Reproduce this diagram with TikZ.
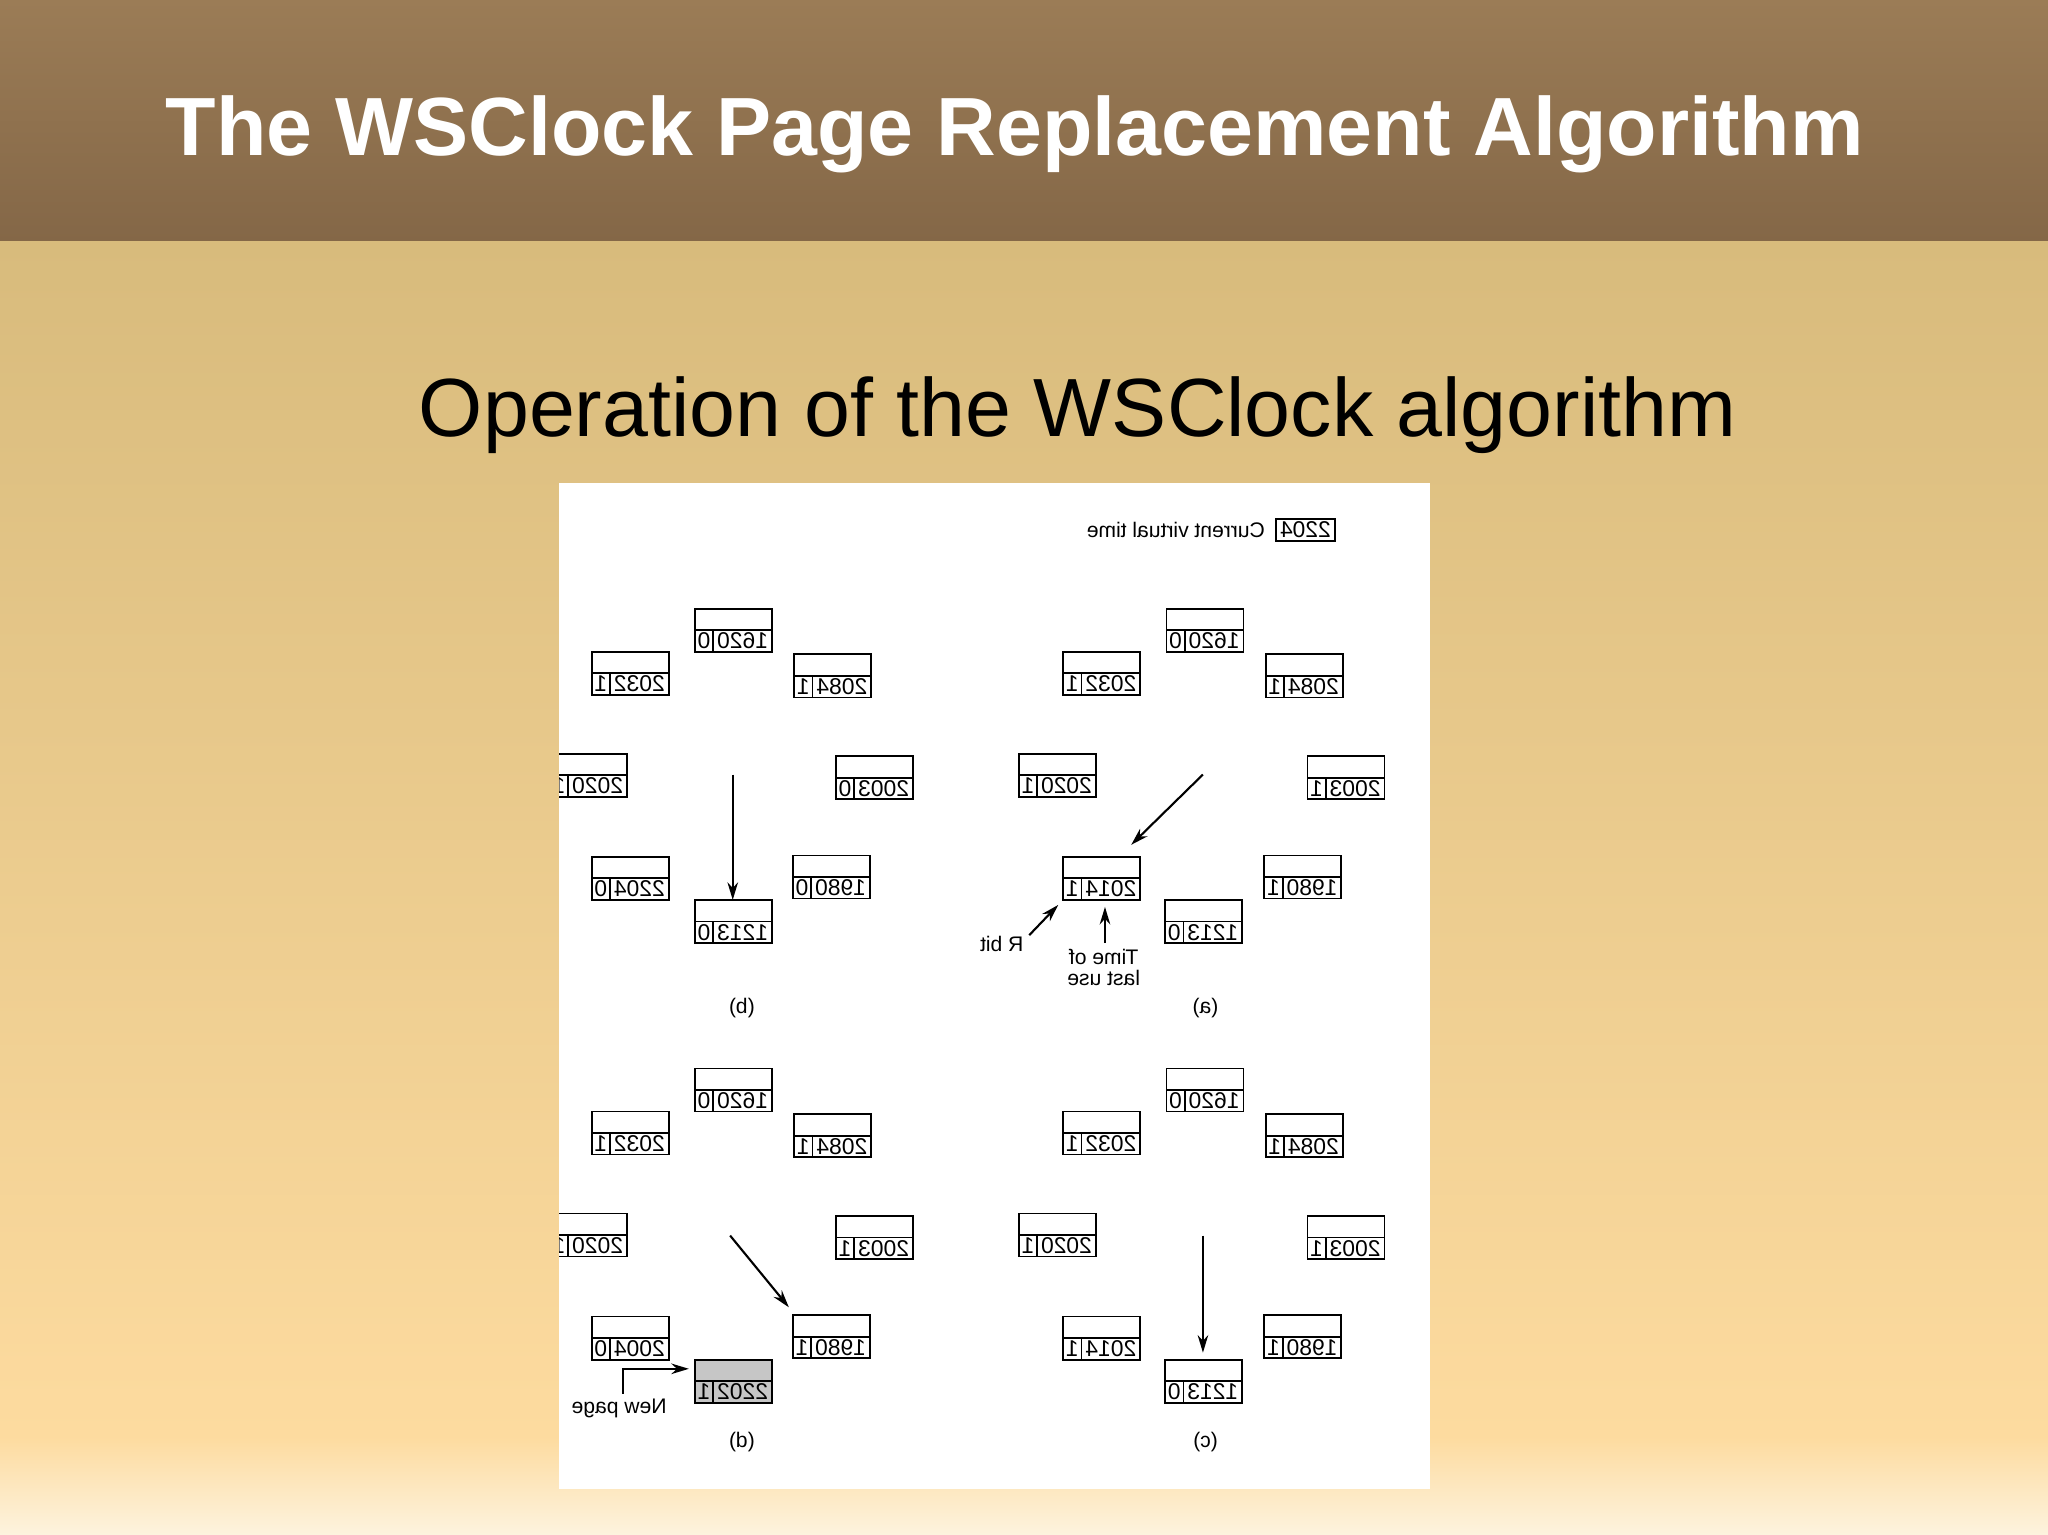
\documentclass[tikz,border=0pt]{standalone}
\usepackage{fontspec}
\setmainfont{Liberation Sans}
\usetikzlibrary{arrows.meta,calc}
\definecolor{hdtop}{RGB}{155,124,86}
\definecolor{hdbot}{RGB}{132,103,71}
\definecolor{bgtop}{RGB}{216,187,124}
\definecolor{bgmid}{RGB}{253,219,159}
\definecolor{bgbot}{RGB}{253,243,222}
\tikzset{
  pgbox/.style={draw,line width=0.5pt,minimum width=0.77cm,minimum height=0.431cm,inner sep=0pt,outer sep=0pt},
  dig/.style={font=\fontsize{6.5}{7}\selectfont,inner sep=0pt},
  lab/.style={font=\fontsize{6}{7}\selectfont,inner sep=0pt},
  arr/.style={line width=0.6pt,-{Stealth[length=5pt,width=3pt]}},
}
\newcommand{\pg}[6][white]{%
  \node[pgbox,fill=#1] (#2) at (#3+29.5,#4+16.5) {};
  \draw[line width=0.5pt] (#2.west) -- (#2.east);
  \draw[line width=0.5pt] ([xshift=0.183cm]#2.south west) -- ([xshift=0.183cm]#2.west);
  \node[dig] at ([xshift=0.477cm,yshift=0.108cm]#2.south west) {\reflectbox{#5}};
  \node[dig] at ([xshift=0.091cm,yshift=0.108cm]#2.south west) {\reflectbox{#6}};
}
\begin{document}
\begin{tikzpicture}[x=0.01306cm,y=-0.01306cm]
\useasboundingbox (0,0) rectangle (1568,1175);
\shade[top color=hdtop,bottom color=hdbot] (0,0) rectangle (1568,185);
\shade[top color=bgtop,bottom color=bgmid] (0,185) rectangle (1568,1100);
\shade[top color=bgmid,bottom color=bgbot] (0,1100) rectangle (1568,1175);
\node[text=white,font=\fontsize{23.5}{26}\selectfont\bfseries] (title) at (777,103) {The WSClock Page Replacement Algorithm};
\node[font=\fontsize{23.5}{26}\selectfont] (sub) at (825,318) {Operation of the WSClock algorithm};
\fill[white] (428,370) rectangle (1095,1140);
\begin{scope}
\clip (428,370) rectangle (1095,1140);
\node[draw,line width=0.5pt,minimum width=0.59cm,minimum height=0.22cm,inner sep=0pt] (cvt) at (999.5,405.5) {};
\node[dig] at (cvt) {\reflectbox{2204}};
\node[lab,anchor=east] (cvtl) at (969,405.5) {\reflectbox{Current virtual time}};
\pg{d1}{532}{466}{1620}{0}
\pg{d2}{453}{499}{2032}{1}
\pg{d3}{608}{501}{2084}{1}
\pg{d4}{421}{577}{2020}{1}
\pg{d5}{640}{579}{2003}{0}
\pg{d6}{453}{656}{2204}{0}
\pg{d7}{607}{655}{1980}{0}
\pg{d8}{532}{689}{1213}{0}
\coordinate (dA) at (561,593);
\draw[arr] (dA) -- (d8.north -| dA);
\node[lab] (dl) at (568,772) {\reflectbox{(b)}};
\pg{a1}{893}{466}{1620}{0}
\pg{a2}{814}{499}{2032}{1}
\pg{a3}{969}{501}{2084}{1}
\pg{a4}{780}{577}{2020}{1}
\pg{a5}{1001}{579}{2003}{1}
\pg{a6}{814}{656}{2014}{1}
\pg{a7}{968}{655}{1980}{1}
\pg{a8}{892}{689}{1213}{0}
\coordinate (aA) at (921,593);
\draw[arr] (aA) -- ([xshift=0.68cm,yshift=0.12cm]a6.north west);
\coordinate (rb) at (788,716);
\draw[arr] (rb) -- ([xshift=-0.05cm,yshift=-0.05cm]a6.south west);
\coordinate (tl) at (846,722);
\draw[arr] (tl) -- ([yshift=-0.07cm]a6.south -| tl);
\node[lab] (rbl) at (767,723) {\reflectbox{R bit}};
\node[lab,align=center] (tll) at (845,743) {\reflectbox{\begin{tabular}{@{}c@{}}Time of\\[-1pt]last use\end{tabular}}};
\node[lab] (al) at (923,772) {\reflectbox{(a)}};
\pg{b1}{532}{818}{1620}{0}
\pg{b2}{453}{851}{2032}{1}
\pg{b3}{608}{853}{2084}{1}
\pg{b4}{421}{929}{2020}{1}
\pg{b5}{640}{931}{2003}{1}
\pg{b6}{453}{1008}{2004}{0}
\pg{b7}{607}{1007}{1980}{1}
\pg[gray!45]{b8}{532}{1041}{2202}{1}
\coordinate (bA) at (559,946);
\draw[arr] (bA) -- ([xshift=-0.04cm,yshift=0.08cm]b7.north west);
\coordinate (np) at (477,1067);
\coordinate (npc) at (477,1048);
\draw[arr] (np) -- (npc) -- ([xshift=-0.06cm]b8.west |- npc);
\node[lab] (npl) at (474,1078) {\reflectbox{New page}};
\node[lab] (bl) at (568,1104) {\reflectbox{(d)}};
\pg{c1}{893}{818}{1620}{0}
\pg{c2}{814}{851}{2032}{1}
\pg{c3}{969}{853}{2084}{1}
\pg{c4}{780}{929}{2020}{1}
\pg{c5}{1001}{931}{2003}{1}
\pg{c6}{814}{1008}{2014}{1}
\pg{c7}{968}{1007}{1980}{1}
\pg{c8}{892}{1041}{1213}{0}
\coordinate (cA) at (921,946);
\draw[arr] (cA) -- ([yshift=0.07cm]c8.north -| cA);
\node[lab] (cl) at (923,1104) {\reflectbox{(c)}};
\end{scope}
\end{tikzpicture}
\end{document}
